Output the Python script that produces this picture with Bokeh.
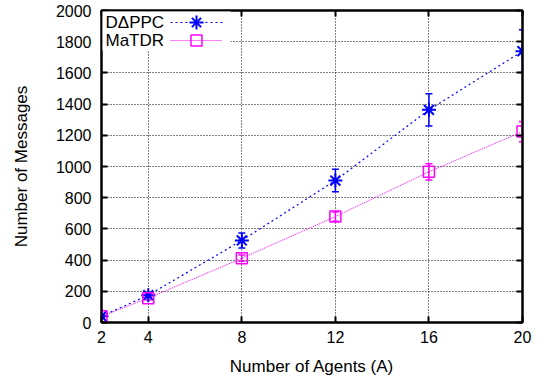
from bokeh.plotting import figure
from bokeh.models import (ColumnDataSource, Whisker, TeeHead, FixedTicker, LinearAxis,
                          Range1d, Label, Arrow, BoxAnnotation)
from bokeh.embed import file_html
from bokeh.resources import INLINE

agents = [2, 4, 8, 12, 16, 20]
dappc = [40, 175, 526, 910, 1363, 1739]
dappc_err = [5, 15, 48, 72, 103, 137]
matdr = [40, 156, 412, 679, 966, 1224]
matdr_err = [5, 12, 20, 30, 52, 65]
x_ticks = [2, 4, 8, 12, 16, 20]
y_ticks = list(range(0, 2001, 200))
series_names = ["D\u0394PPC", "MaTDR"]

FONT = "Liberation Sans"
BLUE = "#0000ff"
MAG = "#ff00ff"

p = figure(width=538, height=379, output_backend="svg", toolbar_location=None,
           x_range=Range1d(2, 20), y_range=Range1d(0, 2000),
           min_border_left=101, min_border_right=16, min_border_top=10, min_border_bottom=57)
p.background_fill_color = "white"
p.border_fill_color = "white"
p.outline_line_color = "black"
p.outline_line_width = 2

for ax in [p.xaxis[0], p.yaxis[0]]:
    ax.major_tick_in = 6
    ax.major_tick_out = 0
    ax.minor_tick_in = 0
    ax.minor_tick_out = 0
    ax.axis_line_color = "black"
    ax.axis_line_width = 2
    ax.major_tick_line_width = 2
    ax.major_label_text_font = FONT
    ax.major_label_text_font_size = "16px"
    ax.major_label_text_color = "black"
    ax.axis_label_text_font = FONT
    ax.axis_label_text_font_size = "17px"
    ax.axis_label_text_font_style = "normal"
    ax.axis_label_text_color = "black"

p.xaxis.ticker = FixedTicker(ticks=x_ticks)
p.yaxis.ticker = FixedTicker(ticks=y_ticks)
p.xaxis.axis_label = "Number of Agents (A)"
p.yaxis.axis_label = "Number of Messages"
p.xaxis.major_label_standoff = 8
p.yaxis.major_label_standoff = 10
p.xaxis.axis_label_standoff = 11
p.yaxis.axis_label_standoff = 22

# mirrored axes
top = LinearAxis(ticker=FixedTicker(ticks=x_ticks), major_label_text_font_size="0px",
                 major_tick_in=6, major_tick_out=0, minor_tick_in=0, minor_tick_out=0,
                 axis_line_width=2, major_tick_line_width=2)
right = LinearAxis(ticker=FixedTicker(ticks=y_ticks), major_label_text_font_size="0px",
                   major_tick_in=6, major_tick_out=0, minor_tick_in=0, minor_tick_out=0,
                   axis_line_width=2, major_tick_line_width=2)
top.major_label_text_color = None
right.major_label_text_color = None
p.add_layout(top, "above")
p.add_layout(right, "right")

p.grid.grid_line_color = "black"
p.grid.grid_line_dash = "1 2"
p.grid.grid_line_width = 1
p.grid.grid_line_alpha = 1
p.xgrid.ticker = FixedTicker(ticks=x_ticks)
p.ygrid.ticker = FixedTicker(ticks=y_ticks)

s1 = ColumnDataSource(dict(x=agents, y=dappc,
                           lo=[v - e for v, e in zip(dappc, dappc_err)],
                           hi=[v + e for v, e in zip(dappc, dappc_err)]))
s2 = ColumnDataSource(dict(x=agents, y=matdr,
                           lo=[v - e for v, e in zip(matdr, matdr_err)],
                           hi=[v + e for v, e in zip(matdr, matdr_err)]))

p.line("x", "y", source=s1, line_color=BLUE, line_dash="2 3", line_width=1.2)
p.line("x", "y", source=s2, line_color=MAG, line_dash="1 1", line_width=1)
p.scatter("x", "y", source=s1, marker="asterisk", size=14, line_color=BLUE, line_width=2)
p.scatter("x", "y", source=s2, marker="square", size=11, fill_color=None,
          line_color=MAG, line_width=1.5)

for src, col in [(s1, BLUE), (s2, MAG)]:
    p.add_layout(Whisker(source=src, base="x", lower="lo", upper="hi", line_color=col, line_width=1.5,
                         upper_head=TeeHead(size=7, line_color=col, line_width=1.5),
                         lower_head=TeeHead(size=7, line_color=col, line_width=1.5)))

# gnuplot-style key (text first, then sample), in screen units relative to the frame
p.add_layout(BoxAnnotation(left=1, right=129, bottom=272, top=311,
                           left_units="screen", right_units="screen",
                           bottom_units="screen", top_units="screen",
                           fill_color="white", fill_alpha=1, line_color=None))
rows = [300, 282]
for name, yy, col, dash in zip(series_names, rows, [BLUE, MAG], ["2 3", "1 1"]):
    p.add_layout(Label(x=4, y=yy, x_units="screen", y_units="screen", text=name,
                       text_font=FONT, text_font_size="17px", text_baseline="middle",
                       text_color="black"))
    p.add_layout(Arrow(x_start=69, y_start=yy, x_end=121, y_end=yy,
                       start_units="screen", end_units="screen", end=None,
                       line_color=col, line_dash=dash, line_width=1.2))
# asterisk sample
cx, cy, r, r2 = 95, rows[0], 7, 4.6
for (dx0, dy0, dx1, dy1) in [(0, -r, 0, r), (-r, 0, r, 0), (-r2, -r2, r2, r2), (-r2, r2, r2, -r2)]:
    p.add_layout(Arrow(x_start=cx + dx0, y_start=cy + dy0, x_end=cx + dx1, y_end=cy + dy1,
                       start_units="screen", end_units="screen", end=None,
                       line_color=BLUE, line_width=2))
# square sample
p.add_layout(BoxAnnotation(left=cx - 5.5, right=cx + 5.5, bottom=rows[1] - 5.5, top=rows[1] + 5.5,
                           left_units="screen", right_units="screen",
                           bottom_units="screen", top_units="screen",
                           fill_color=None, fill_alpha=0, line_color=MAG, line_width=1.5,
                           line_alpha=1))

open("out.html", "w").write(file_html(p, INLINE))
